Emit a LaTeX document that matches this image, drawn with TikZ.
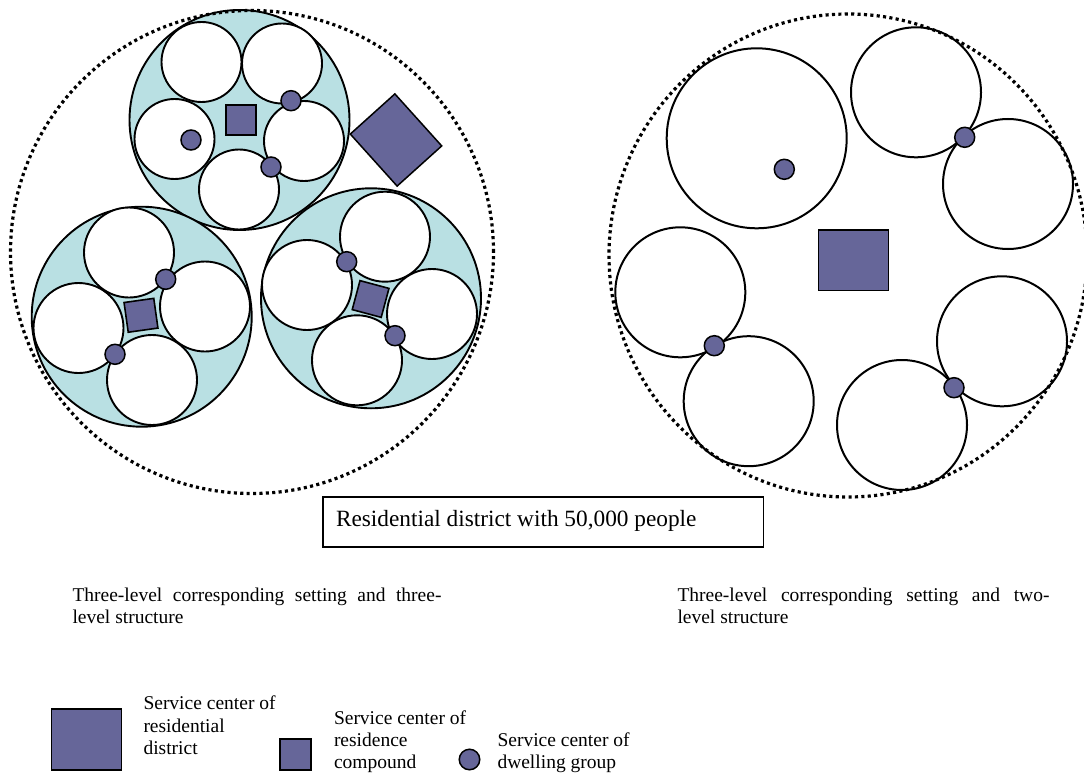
\documentclass[tikz,border=0pt]{standalone}
\usepackage{fontspec}
\setmainfont{Liberation Serif}
\usetikzlibrary{shapes.geometric}
\definecolor{svc}{RGB}{102,102,153}
\definecolor{cmpd}{RGB}{185,224,227}
\begin{document}
\begin{tikzpicture}[x=1pt,y=-1pt,
  every node/.style={inner sep=0pt, outer sep=0pt},
  outerring/.style={circle, draw=black, line width=3.2pt, dash pattern=on 3.1pt off 3.3pt},
  compound/.style={circle, draw=black, fill=cmpd, line width=1.9pt, minimum size=220pt},
  groupS/.style={circle, draw=black, fill=white, line width=1.9pt, minimum size=80pt},
  groupM/.style={circle, draw=black, fill=white, line width=1.9pt, minimum size=90pt},
  groupL/.style={circle, draw=black, fill=white, line width=2pt, minimum size=130pt},
  groupXL/.style={circle, draw=black, fill=white, line width=2pt, minimum size=180pt},
  dot/.style={circle, draw=black, fill=svc, line width=1.5pt, minimum size=20pt},
  csq/.style={rectangle, draw=black, fill=svc, line width=1.6pt, minimum width=30pt, minimum height=30pt},
  dsq/.style={rectangle, draw=black, fill=svc, line width=1.5pt, minimum width=70pt, minimum height=60.5pt},
  lbl/.style={anchor=base west, font=\fontsize{19.5pt}{22.5pt}\selectfont},
  ]
\useasboundingbox (0,0) rectangle (1084,773);

% ---------------- left panel ----------------
\node[compound] (ca) at (239.5,120) {};
\node[compound] (cb) at (141.7,316.7) {};
\node[compound] (cc) at (371,298.3) {};

\node[groupS] (a1) at (201.5,62) {};
\node[groupS] (a2) at (282,63.5) {};
\node[groupS] (a3) at (174.5,139) {};
\node[groupS] (a4) at (304,141) {};
\node[groupS] (a5) at (239,189.5) {};

\node[groupM] (b1) at (129,252.5) {};
\node[groupM] (b2) at (78.5,328) {};
\node[groupM] (b3) at (205,306.5) {};
\node[groupM] (b4) at (152,380) {};

\node[groupM] (c1) at (385,236.7) {};
\node[groupM] (c2) at (307,285) {};
\node[groupM] (c3) at (432,314) {};
\node[groupM] (c4) at (357,360.3) {};

\node[csq] (sqa) at (241,120) {};
\node[csq, rotate=8] (sqb) at (141,315.3) {};
\node[csq, rotate=-15] (sqc) at (370.6,299) {};

\node[dot] (da1) at (191,140) {};
\node[dot] (da2) at (291,100.7) {};
\node[dot] (da3) at (271,167) {};
\node[dot] (db1) at (165.7,279.3) {};
\node[dot] (db2) at (115,354.3) {};
\node[dot] (dc1) at (346.7,261.7) {};
\node[dot] (dc2) at (395,335.7) {};

\node[rectangle, draw=black, fill=svc, line width=1.5pt, minimum width=60pt, minimum height=70pt, rotate=42] (dl) at (396,140) {};

\node[outerring, minimum size=483pt] (ringL) at (252,252) {};

% ---------------- right panel ----------------
\node[groupXL] (r0) at (756.7,138.3) {};
\node[dot] (dr0) at (784.3,169.3) {};
\node[groupL] (r1) at (916,92.3) {};
\node[groupL] (r2) at (1008,184) {};
\node[groupL] (r3) at (680.3,292.3) {};
\node[groupL] (r4) at (748.7,401.2) {};
\node[groupL] (r5) at (1002,341.3) {};
\node[groupL] (r6) at (902,425) {};
\node[dot] (dr1) at (964.7,137.3) {};
\node[dot] (dr2) at (714.3,345.7) {};
\node[dot] (dr3) at (954,387.7) {};
\node[dsq] (dR) at (853.3,260.35) {};

\node[ellipse, draw=black, line width=3.2pt, dash pattern=on 3.1pt off 3.3pt, minimum width=478pt, minimum height=483pt] (ringR) at (848,255.5) {};

% ---------------- title box ----------------
\node[rectangle, draw=black, line width=1.3pt, minimum width=440.3pt, minimum height=50pt] (box) at (543.15,522) {};
\node[anchor=base west, font=\fontsize{23.3pt}{28pt}\selectfont] (boxtxt) at (336,526) {Residential district with 50,000 people};

% ---------------- captions ----------------
\node[lbl] (capL1) at (72.5,601.5) {\makebox[369pt][s]{Three-level corresponding setting and three-}};
\node[lbl] (capL2) at (72.5,623.8) {level structure};
\node[lbl] (capR1) at (677.5,601.5) {\makebox[372pt][s]{Three-level corresponding setting and two-}};
\node[lbl] (capR2) at (677.5,623.8) {level structure};

% ---------------- legend ----------------
\node[dsq, minimum width=70pt, minimum height=61pt] (lgA) at (86.5,739.3) {};
\node[lbl] (lgA1) at (143.5,709.5) {Service center of};
\node[lbl] (lgA2) at (143.5,732) {residential};
\node[lbl] (lgA3) at (143.5,754.5) {district};

\node[csq, minimum width=31pt, minimum height=31pt] (lgB) at (295.5,754.5) {};
\node[lbl] (lgB1) at (334,724.5) {Service center of};
\node[lbl] (lgB2) at (334,746.5) {residence};
\node[lbl] (lgB3) at (334,768.5) {compound};

\node[dot, minimum size=20.5pt] (lgC) at (469.5,759.5) {};
\node[lbl] (lgC1) at (497.5,746) {Service center of};
\node[lbl] (lgC2) at (497.5,768) {dwelling group};
\end{tikzpicture}
\end{document}
